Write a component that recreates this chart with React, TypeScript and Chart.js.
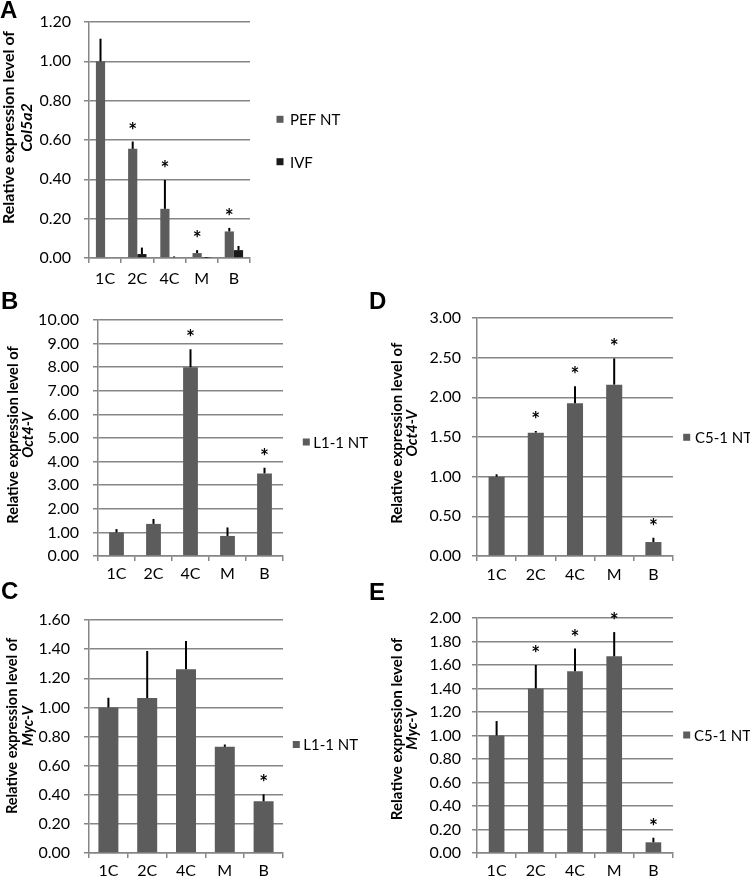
import React, { useEffect, useRef } from "react";
import { Chart, registerables } from "chart.js";

Chart.register(...registerables);

// ---------- data ----------
const categories = ["1C", "2C", "4C", "M", "B"];

// Panel A – Col5a2
const colPefValues = [1.0, 0.555, 0.25, 0.025, 0.135];
const colPefErrors = [0.115, 0.037, 0.147, 0.015, 0.018];
const colPefStars = [false, true, true, true, true];
const colIvfValues = [0, 0.02, 0.004, 0.002, 0.04];
const colIvfErrors = [0, 0.033, 0.004, 0.003, 0.021];
const colIvfStars = [false, false, false, false, false];

// Panel B – Oct4-V, L1-1 NT
const oct4L1Values = [1.0, 1.36, 8.0, 0.85, 3.5];
const oct4L1Errors = [0.14, 0.21, 0.76, 0.36, 0.24];
const oct4L1Stars = [false, false, true, false, true];

// Panel C – Myc-V, L1-1 NT
const mycL1Values = [1.0, 1.064, 1.261, 0.729, 0.355];
const mycL1Errors = [0.066, 0.323, 0.195, 0.016, 0.048];
const mycL1Stars = [false, false, false, false, true];

// Panel D – Oct4-V, C5-1 NT
const oct4C5Values = [1.0, 1.555, 1.924, 2.16, 0.176];
const oct4C5Errors = [0.03, 0.021, 0.216, 0.33, 0.054];
const oct4C5Stars = [false, true, true, true, true];

// Panel E – Myc-V, C5-1 NT
const mycC5Values = [1.0, 1.4, 1.546, 1.674, 0.091];
const mycC5Errors = [0.123, 0.2, 0.194, 0.206, 0.039];
const mycC5Stars = [false, true, true, true, true];

// axis ranges [max, step]
const axisA = [1.2, 0.2];
const axisB = [10, 1];
const axisC = [1.6, 0.2];
const axisD = [3, 0.5];
const axisE = [2, 0.2];

// ---------- styles ----------
const FONT = "Lato, 'Open Sans', sans-serif";
const LETTER_FONT = "'Liberation Sans', Arial, sans-serif";
const GRID = "#868686";
const GRAY = "#5c5c5c";
const BLACK = "#1a1a1a";
const YW = 72;
const XH = 40;
const STAR_GAP = 16;
const TICK_SIZE = 16;

type Series = { label: string; values: number[]; errors: number[]; stars: boolean[]; color: string };
type Cfg = {
  box: { x: number; y: number; w: number; h: number };
  area: { l: number; r: number; t: number; b: number };
  axis: number[];
  catPct: number;
  tickPad: number;
  xPad: number;
  series: Series[];
  title: [string, string];
  titleX: [number, number];
  titleY: number;
  titleSize: number;
  letter: string;
  letterPos: [number, number];
  legend: { x: number; textX: number; ys: number[] };
};

function makeDecor(cfg: Cfg) {
  return {
    id: "decor",
    afterDatasetsDraw(chart: any) {
      const ctx = chart.ctx as CanvasRenderingContext2D;
      const ys = chart.scales.y;
      ctx.save();
      cfg.series.forEach((s, i) => {
        const meta = chart.getDatasetMeta(i);
        meta.data.forEach((bar: any, j: number) => {
          const err = s.errors[j];
          const base = ys.getPixelForValue(s.values[j]);
          const top = ys.getPixelForValue(s.values[j] + err);
          if (err > 0) {
            ctx.strokeStyle = "#000";
            ctx.lineWidth = 2;
            ctx.beginPath();
            ctx.moveTo(bar.x, base);
            ctx.lineTo(bar.x, top);
            ctx.stroke();
          }
          if (s.stars[j]) {
            ctx.fillStyle = "#000";
            ctx.font = `bold 21px ${FONT}`;
            ctx.textAlign = "center";
            ctx.textBaseline = "alphabetic";
            ctx.fillText("*", bar.x, top - STAR_GAP + 12);
          }
        });
      });
      ctx.restore();
    },
    afterDraw(chart: any) {
      const ctx = chart.ctx as CanvasRenderingContext2D;
      const ox = cfg.box.x;
      const oy = cfg.box.y;
      ctx.save();
      // legend
      cfg.series.forEach((s, i) => {
        const ly = cfg.legend.ys[i] - oy;
        ctx.fillStyle = s.color;
        ctx.fillRect(cfg.legend.x - ox - 3.5, ly - 3.5, 7, 7);
        ctx.fillStyle = "#000";
        ctx.font = `15px ${FONT}`;
        ctx.textAlign = "left";
        ctx.textBaseline = "middle";
        ctx.fillText(s.label, cfg.legend.textX - ox, ly + 1);
      });
      // y title
      cfg.title.forEach((t, k) => {
        ctx.save();
        ctx.translate(cfg.titleX[k] - ox, cfg.titleY - oy);
        ctx.rotate(-Math.PI / 2);
        ctx.textAlign = "center";
        ctx.textBaseline = "middle";
        ctx.fillStyle = "#000";
        ctx.font = `${k === 1 ? "italic " : ""}bold ${cfg.titleSize}px ${FONT}`;
        ctx.fillText(t, 0, 0);
        ctx.restore();
      });
      // panel letter
      ctx.fillStyle = "#000";
      ctx.font = `900 24px ${LETTER_FONT}`;
      ctx.textAlign = "left";
      ctx.textBaseline = "alphabetic";
      ctx.fillText(cfg.letter, cfg.letterPos[0] - ox, cfg.letterPos[1] - oy);
      ctx.restore();
    },
  };
}

function Panel({ cfg }: { cfg: Cfg }) {
  const ref = useRef<HTMLCanvasElement>(null);
  useEffect(() => {
    const { box, area } = cfg;
    const chart = new Chart(ref.current!, {
      type: "bar",
      data: {
        labels: categories,
        datasets: cfg.series.map((s) => ({
          label: s.label,
          data: s.values,
          backgroundColor: s.color,
          borderWidth: 0,
          categoryPercentage: cfg.catPct,
          barPercentage: 1,
        })),
      },
      options: {
        animation: false,
        responsive: false,
        maintainAspectRatio: false,
        devicePixelRatio: 1,
        layout: {
          padding: {
            left: area.l - box.x - YW,
            right: box.x + box.w - area.r,
            top: area.t - box.y,
            bottom: box.y + box.h - area.b - XH,
          },
        },
        plugins: { legend: { display: false }, tooltip: { enabled: false } },
        scales: {
          x: {
            grid: {
              display: true,
              drawOnChartArea: false,
              drawTicks: true,
              tickLength: 5,
              color: GRID,
              lineWidth: 1.5,
            },
            border: { display: true, color: GRID, width: 1.5 },
            ticks: { color: "#000", font: { family: FONT, size: TICK_SIZE }, padding: cfg.xPad, maxRotation: 0 },
            afterFit: (s: any) => {
              s.height = XH;
              s.paddingLeft = 0;
              s.paddingRight = 0;
            },
          },
          y: {
            min: 0,
            max: cfg.axis[0],
            ticks: {
              stepSize: cfg.axis[1],
              color: "#000",
              font: { family: FONT, size: TICK_SIZE },
              padding: cfg.tickPad,
              callback: (v: any) => Number(v).toFixed(2),
            },
            grid: { color: GRID, lineWidth: 1.5, tickLength: 5 },
            border: { display: true, color: GRID, width: 1.5 },
            afterFit: (s: any) => {
              s.width = YW;
              s.paddingTop = 0;
              s.paddingBottom = 0;
            },
          },
        },
      },
      plugins: [makeDecor(cfg)],
    } as any);
    return () => chart.destroy();
  }, []);
  return (
    <canvas
      ref={ref}
      width={cfg.box.w}
      height={cfg.box.h}
      style={{ position: "absolute", left: cfg.box.x, top: cfg.box.y, width: cfg.box.w, height: cfg.box.h }}
    />
  );
}

const panels: Cfg[] = [
  {
    box: { x: 0, y: 0, w: 370, h: 300 },
    area: { l: 89, r: 250, t: 22, b: 258 },
    axis: axisA,
    catPct: 0.571,
    tickPad: 13,
    xPad: 6,
    series: [
      { label: "PEF NT", values: colPefValues, errors: colPefErrors, stars: colPefStars, color: GRAY },
      { label: "IVF", values: colIvfValues, errors: colIvfErrors, stars: colIvfStars, color: BLACK },
    ],
    title: ["Relative expression level of", "Col5a2"],
    titleX: [8.5, 27],
    titleY: 127.5,
    titleSize: 16,
    letter: "A",
    letterPos: [0, 18],
    legend: { x: 280, textX: 290, ys: [119.3, 161.7] },
  },
  {
    box: { x: 0, y: 288, w: 370, h: 310 },
    area: { l: 98, r: 283, t: 320, b: 556 },
    axis: axisB,
    catPct: 0.4,
    tickPad: 14,
    xPad: 3,
    series: [{ label: "L1-1 NT", values: oct4L1Values, errors: oct4L1Errors, stars: oct4L1Stars, color: GRAY }],
    title: ["Relative expression level of", "Oct4-V"],
    titleX: [13.3, 28.5],
    titleY: 435,
    titleSize: 14.7,
    letter: "B",
    letterPos: [1, 309],
    legend: { x: 306.3, textX: 313.3, ys: [442] },
  },
  {
    box: { x: 0, y: 578, w: 370, h: 320 },
    area: { l: 89, r: 283, t: 620, b: 853 },
    axis: axisC,
    catPct: 0.515,
    tickPad: 14,
    xPad: 3,
    series: [{ label: "L1-1 NT", values: mycL1Values, errors: mycL1Errors, stars: mycL1Stars, color: GRAY }],
    title: ["Relative expression level of", "Myc-V"],
    titleX: [12.5, 28],
    titleY: 726,
    titleSize: 14.6,
    letter: "C",
    letterPos: [1, 599],
    legend: { x: 296.3, textX: 303.3, ys: [744.5] },
  },
  {
    box: { x: 368, y: 288, w: 382, h: 310 },
    area: { l: 477, r: 673, t: 318, b: 556 },
    axis: axisD,
    catPct: 0.41,
    tickPad: 11,
    xPad: 4,
    series: [{ label: "C5-1 NT", values: oct4C5Values, errors: oct4C5Errors, stars: oct4C5Stars, color: GRAY }],
    title: ["Relative expression level of", "Oct4-V"],
    titleX: [396.7, 412],
    titleY: 433.3,
    titleSize: 15,
    letter: "D",
    letterPos: [369, 309],
    legend: { x: 686.7, textX: 695, ys: [437.3] },
  },
  {
    box: { x: 368, y: 578, w: 382, h: 320 },
    area: { l: 477, r: 673, t: 618, b: 853 },
    axis: axisE,
    catPct: 0.4,
    tickPad: 11,
    xPad: 3,
    series: [{ label: "C5-1 NT", values: mycC5Values, errors: mycC5Errors, stars: mycC5Stars, color: GRAY }],
    title: ["Relative expression level of", "Myc-V"],
    titleX: [396.7, 412],
    titleY: 729,
    titleSize: 15.1,
    letter: "E",
    letterPos: [369, 600],
    legend: { x: 686.7, textX: 694, ys: [735] },
  },
];

export default function App() {
  return (
    <div
      style={{
        position: "absolute",
        left: 0,
        top: 0,
        width: 750,
        height: 879,
        background: "#fff",
        overflow: "hidden",
      }}
    >
      {panels.map((p) => (
        <Panel key={p.letter} cfg={p} />
      ))}
    </div>
  );
}
